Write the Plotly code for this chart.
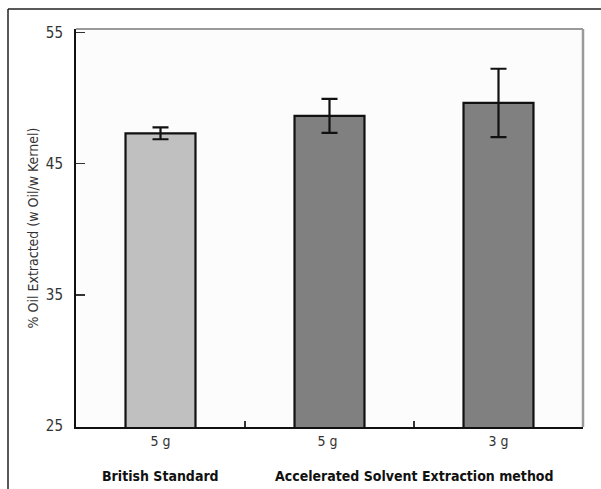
import plotly.graph_objects as go

categories = ["5 g", "5 g ", "3 g"]
values = [47.3, 48.63, 49.62]
errors = [0.45, 1.3, 2.6]
bar_colors = ["#c0c0c0", "#808080", "#808080"]
group_labels = ["British Standard", "Accelerated Solvent Extraction method"]
group_positions = [0, 1.5]
y_ticks = [25, 35, 45, 55]

FONT = "Liberation Sans Narrow, DejaVu Sans Condensed, Arial Narrow, sans-serif"

fig = go.Figure()
fig.add_trace(go.Bar(
    x=categories, y=values,
    width=0.414,
    marker=dict(color=bar_colors, line=dict(color="#111111", width=2.2)),
    error_y=dict(type="data", array=errors, visible=True,
                 color="#111111", thickness=2.2, width=8),
    showlegend=False,
    hoverinfo="skip",
))

L, R, T, B = 76, 18, 29, 62
W, H = 601, 489
pw = W - L - R
ph = H - T - B

shapes = [
    dict(type="line", xref="paper", yref="paper", x0=0, x1=1, y0=1, y1=1,
         line=dict(color="#9a9a9a", width=2)),
    dict(type="line", xref="paper", yref="paper", x0=1, x1=1, y0=0, y1=1,
         line=dict(color="#9a9a9a", width=2.5)),
    dict(type="line", xref="paper", yref="paper",
         x0=(8 - L) / pw, x1=(W + 5 - L) / pw,
         y0=(H - B - 9) / ph, y1=(H - B - 9) / ph,
         line=dict(color="#222222", width=1.5)),
    dict(type="line", xref="paper", yref="paper",
         x0=(8 - L) / pw, x1=(8 - L) / pw,
         y0=(H - B - 9) / ph, y1=-(B + 5) / ph,
         line=dict(color="#222222", width=1.5)),
]

annotations = []
for lab, pos in zip(group_labels, group_positions):
    annotations.append(dict(
        x=pos, xref="x", y=-(476 - (H - B)) / ph, yref="paper",
        text="<b>" + lab + "</b>", showarrow=False,
        font=dict(family=FONT, size=14, color="#111111"),
        xanchor="center", yanchor="middle",
    ))

fig.update_layout(
    width=W, height=H,
    margin=dict(l=L, r=R, t=T, b=B, pad=0),
    paper_bgcolor="white",
    plot_bgcolor="#fcfcfc",
    font=dict(family=FONT, color="#333333"),
    shapes=shapes,
    annotations=annotations,
    xaxis=dict(
        type="category",
        range=[-0.5, 2.5],
        showline=True, linecolor="#111111", linewidth=2,
        ticks="inside", tickson="boundaries", ticklen=6, tickwidth=1.5,
        tickcolor="#333333",
        showgrid=False, zeroline=False,
        tickfont=dict(family=FONT, size=14, color="#333333"),
        fixedrange=True,
    ),
    yaxis=dict(
        range=[24.93, 55.25],
        tickvals=y_ticks,
        showline=True, linecolor="#111111", linewidth=2,
        ticks="inside", ticklen=9, tickwidth=1.5, tickcolor="#333333",
        showgrid=False, zeroline=False,
        tickfont=dict(family=FONT, size=15, color="#333333"),
        ticklabelstandoff=8,
        title=dict(text="% Oil Extracted (w Oil/w Kernel)",
                   font=dict(family=FONT, size=14, color="#333333"),
                   standoff=4),
        fixedrange=True,
    ),
)

fig.write_html(
    "out.html",
    config={"displayModeBar": False, "staticPlot": True},
    post_script="document.body.style.margin='0';document.body.style.overflow='hidden';",
)
